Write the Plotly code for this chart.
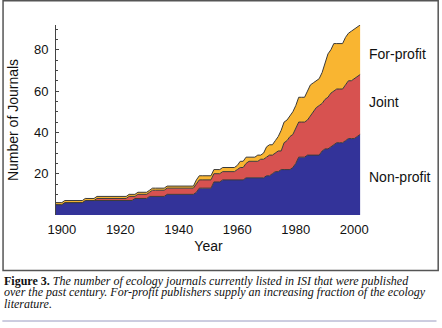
import plotly.graph_objects as go

years = list(range(1898, 2003))

non_profit = [5, 5, 5,
              6, 6, 6, 6, 6, 6, 6,
              7, 7, 7, 7,
              7, 7, 7, 7, 7, 7, 7, 7, 7, 7, 7,
              7, 7, 8,
              8, 8, 8, 8,
              9,
              9, 9, 9, 9, 9,
              10, 10, 10, 10, 10, 10, 10, 10, 10, 10,
              11, 13,
              13, 13, 13, 13,
              16, 16, 16,
              17, 17, 17, 17, 17,
              17, 17, 17, 18, 18, 18, 18, 18, 18, 18,
              19, 19, 20, 21, 21, 22, 22, 22, 22, 23,
              25, 28, 28, 28, 29, 29, 29, 29, 29, 31,
              32, 32, 33, 34, 35, 35, 35, 36, 37, 37,
              37, 38, 39]

joint = [0, 0, 0,
         0, 0, 0, 0, 0, 0, 0,
         0, 0, 0, 0,
         1, 1, 1, 1, 1, 1, 1, 1, 1, 1, 1,
         2, 2, 1,
         2, 2, 2, 2,
         2,
         3, 3, 3, 3, 3,
         3, 3, 3, 3, 3, 3, 3, 3, 3, 3,
         4, 4,
         4, 4, 4, 4,
         4, 4, 4,
         4, 4, 4, 4, 4,
         5, 6, 6, 7, 8, 8, 8, 8, 9, 9,
         9, 10, 9, 9, 10, 9, 13, 14, 16, 16,
         17, 17, 17, 17, 17, 19, 21, 23, 24, 23,
         24, 25, 26, 26, 26, 26, 26, 27, 28, 28,
         29, 29, 29]

for_profit = [1, 1, 1,
              1, 1, 1, 1, 1, 1, 1,
              1, 1, 1, 1,
              1, 1, 1, 1, 1, 1, 1, 1, 1, 1, 1,
              1, 1, 1,
              1, 1, 1, 1,
              1,
              1, 1, 1, 1, 1,
              1, 1, 1, 1, 1, 1, 1, 1, 1, 1,
              2, 2,
              2, 2, 2, 2,
              2, 2, 2,
              2, 2, 2, 2, 2,
              2, 3, 3, 3, 2, 2, 2, 3, 2, 3,
              5, 5, 5, 6, 7, 10, 10, 10, 10, 11,
              11, 12, 12, 12, 14, 15, 14, 13, 13, 15,
              17, 21, 21, 23, 22, 22, 22, 23, 23, 24,
              24, 24, 24]

series = [("Non-profit", non_profit, "#333399"),
          ("Joint", joint, "#D75250"),
          ("For-profit", for_profit, "#F9B531")]

font_family = "Liberation Sans, Arial, Helvetica, sans-serif"

fig = go.Figure()
for name, vals, col in series:
    fig.add_trace(go.Scatter(
        x=years, y=vals, name=name, mode="lines", stackgroup="one",
        line=dict(color="#3a3a3a", width=1), fillcolor=col))

# plot-area geometry in pixels
L, R, T, B = 54, 81, 25, 113
W, H = 442, 328
pw, ph = W - L - R, H - T - B


def px(x):
    return (x - L) / pw


def py(y):
    return (H - B - y) / ph


fig.update_layout(
    width=W, height=H,
    margin=dict(l=L, r=R, t=T, b=B),
    paper_bgcolor="white", plot_bgcolor="white",
    showlegend=False,
    font=dict(family=font_family, color="#111111", size=13),
    xaxis=dict(range=[1898, 2002.3], tickvals=[1900, 1920, 1940, 1960, 1980, 2000],
               showgrid=False, zeroline=False, showline=False, ticks="",
               ticklabelstandoff=5,
               tickfont=dict(size=13),
               title=dict(text="Year", font=dict(size=14), standoff=5)),
    yaxis=dict(range=[0, 92], tickvals=[20, 40, 60, 80],
               showgrid=False, zeroline=False, showline=True,
               linecolor="#444444", linewidth=1,
               ticks="inside", ticklen=3, tickcolor="#444444",
               minor=dict(dtick=5, ticks="inside", ticklen=2, tickcolor="#444444"),
               ticklabelstandoff=4,
               tickfont=dict(size=13),
               title=dict(text="Number of Journals", font=dict(size=14), standoff=12)),
)

# series labels on the right
for text, ypix in [("For-profit", 54), ("Joint", 102), ("Non-profit", 177)]:
    fig.add_annotation(text=text, xref="paper", yref="paper",
                       x=px(367), y=py(ypix), xanchor="left", yanchor="middle",
                       showarrow=False, font=dict(size=14, family=font_family, color="#111111"))

# frame around the figure
fig.add_shape(type="rect", xref="paper", yref="paper",
              x0=px(0.7), x1=px(438.7), y0=py(0.7), y1=py(270.5),
              line=dict(color="#555555", width=1.5), fillcolor="rgba(0,0,0,0)", layer="above")

# rule under the caption
fig.add_shape(type="line", xref="paper", yref="paper",
              x0=px(0), x1=px(437), y0=py(321), y1=py(321),
              line=dict(color="#9A9AC0", width=1))

serif = "Liberation Serif, Times New Roman, serif"
caption = [
    "<b>Figure 3.</b> <i>The number of ecology journals currently listed in ISI that were published</i>",
    "<i>over the past century. For-profit publishers supply an increasing fraction of the ecology</i>",
    "<i>literature.</i>",
]
for line, ypix in zip(caption, [280.5, 292, 303.5]):
    fig.add_annotation(text=line, xref="paper", yref="paper",
                       x=px(0), y=py(ypix), xanchor="left", yanchor="middle",
                       showarrow=False, font=dict(size=12, family=serif, color="#111111"))

fig.write_html("out.html")
